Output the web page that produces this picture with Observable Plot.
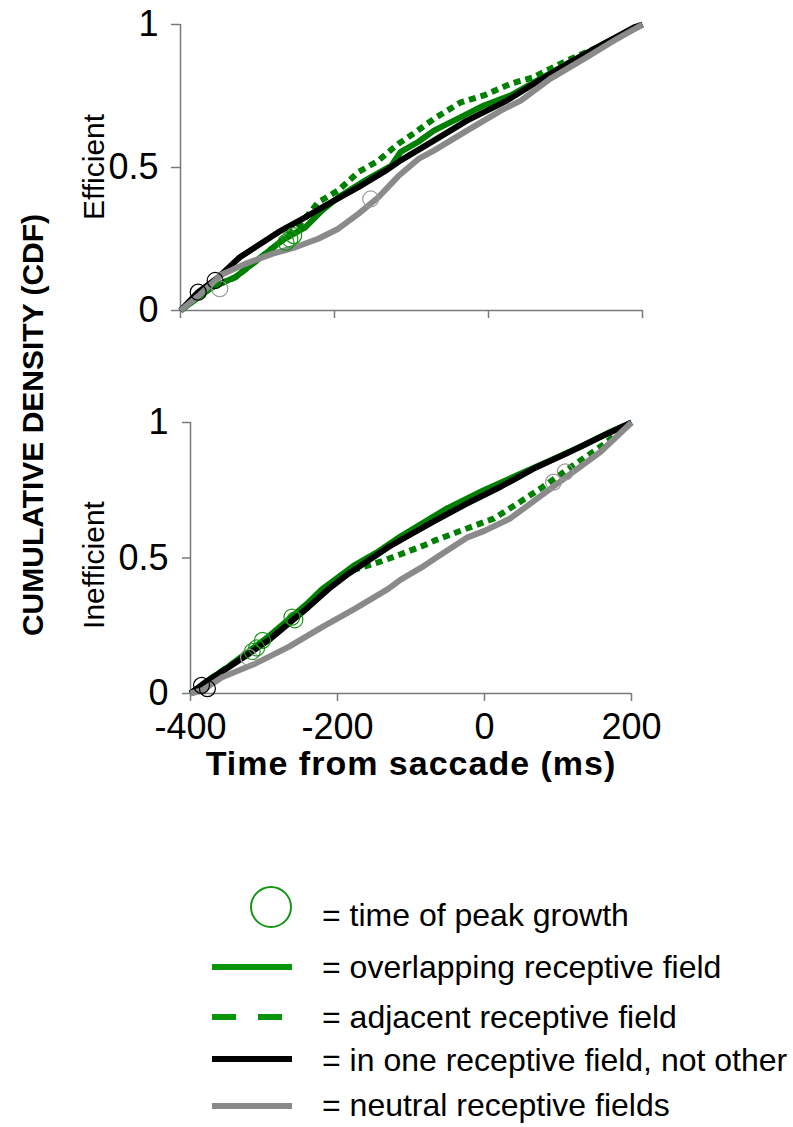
<!DOCTYPE html>
<html>
<head>
<meta charset="utf-8">
<script src="https://cdn.jsdelivr.net/npm/d3@7"></script>
<script src="https://cdn.jsdelivr.net/npm/@observablehq/plot@0.6"></script>
<style>
  html, body { margin: 0; padding: 0; background: #fff; }
  #figure { position: relative; width: 793px; height: 1127px; overflow: hidden; background: #fff; }
  #figure svg { position: absolute; left: 0; }
</style>
</head>
<body>
<div id="figure"></div>
<script>
// ---- Data: cumulative density of event times, [time from saccade (ms), CDF] ----
const efficientAdjacent = [[-400,0],[-380,0.04],[-359,0.081],[-329,0.116],[-290,0.198],[-268,0.245],[-245,0.30],[-221,0.379],[-195,0.42],[-169,0.484],[-143,0.524],[-117,0.583],[-95,0.623],[-71,0.67],[-36,0.728],[-6,0.752],[29,0.793],[59,0.816],[80,0.845],[102,0.874],[137,0.915],[167,0.956],[200,1]];
const efficientOverlapping = [[-400,0],[-380,0.04],[-359,0.081],[-329,0.116],[-290,0.198],[-268,0.245],[-238,0.291],[-216,0.35],[-195,0.396],[-160,0.455],[-126,0.507],[-114,0.555],[-91,0.59],[-71,0.629],[-36,0.676],[-6,0.717],[29,0.752],[59,0.798],[102,0.862],[146,0.927],[200,1]];
const efficientOneField = [[-400,0],[-377,0.064],[-351,0.116],[-323,0.186],[-303,0.221],[-273,0.274],[-238,0.326],[-208,0.373],[-169,0.431],[-134,0.488],[-114,0.525],[-71,0.594],[-28,0.664],[24,0.734],[59,0.793],[102,0.862],[146,0.927],[189,0.99],[200,1]];
const efficientNeutral = [[-400,0],[-375,0.055],[-347,0.125],[-316,0.163],[-281,0.198],[-251,0.221],[-221,0.251],[-195,0.286],[-169,0.338],[-143,0.396],[-117,0.47],[-91,0.53],[-71,0.559],[-28,0.629],[16,0.699],[42,0.734],[80,0.81],[124,0.88],[167,0.95],[200,1]];

const inefficientAdjacent = [[-400,0],[-375,0.05],[-348,0.10],[-321,0.152],[-294,0.205],[-267,0.265],[-240,0.325],[-212,0.39],[-185,0.447],[-176,0.458],[-140,0.488],[-114,0.514],[-81,0.548],[-69,0.563],[-24,0.609],[13,0.646],[45,0.701],[76,0.756],[99,0.8],[121,0.842],[160,0.915],[200,1]];
const inefficientOverlapping = [[-400,0],[-375,0.05],[-348,0.10],[-321,0.155],[-294,0.21],[-267,0.272],[-240,0.335],[-221,0.385],[-176,0.475],[-144,0.525],[-114,0.58],[-51,0.683],[-1,0.75],[45,0.806],[90,0.861],[135,0.916],[167,0.96],[200,1]];
const inefficientOneField = [[-400,0],[-376,0.048],[-348,0.097],[-321,0.146],[-294,0.196],[-267,0.257],[-240,0.318],[-212,0.386],[-185,0.442],[-158,0.491],[-131,0.54],[-103,0.583],[-69,0.635],[-24,0.701],[22,0.763],[67,0.83],[112,0.886],[158,0.947],[200,1]];
const inefficientNeutral = [[-400,0],[-384,0.012],[-357,0.06],[-312,0.11],[-267,0.171],[-221,0.245],[-176,0.313],[-131,0.386],[-114,0.42],[-85,0.466],[-69,0.495],[-24,0.575],[0,0.6],[35,0.646],[90,0.756],[112,0.8],[158,0.892],[200,1]];

// Times of peak growth: [series, time (ms), CDF]
const efficientPeaks = [["one",-377,0.064],["neutral",-349,0.076],["one",-355,0.105],["overlapping",-263,0.238],["overlapping",-258,0.25],["overlapping",-253,0.262],["neutral",-153,0.39]];
const inefficientPeaks = [["one",-385,0.03],["one",-377,0.018],["neutral",-321,0.134],["overlapping",-316,0.155],["overlapping",-310,0.168],["overlapping",-302,0.196],["overlapping",-262,0.282],["overlapping",-258,0.272],["neutral",94,0.78],["neutral",110,0.818]];

const xTicks = [-400, -200, 0, 200];
const yTicks = [0, 0.5, 1];
const panelNames = ["Efficient", "Inefficient"];
const yTitle = "CUMULATIVE DENSITY (CDF)";
const xTitle = "Time from saccade (ms)";
const legendLabels = [
  "= time of peak growth",
  "= overlapping receptive field",
  "= adjacent receptive field",
  "= in one receptive field, not other",
  "= neutral receptive fields"
];

// ---- Styling ----
const FONT = "'Liberation Sans', Arial, Helvetica, sans-serif";
const AXIS = "#7a7a7a";
const lineColor = {adjacent: "#008000", overlapping: "#008000", one: "#000000", neutral: "#8a8a8a"};
const peakColor = {overlapping: "#169616", one: "#000000", neutral: "#9a9a9a"};
const drawOrder = ["adjacent", "overlapping", "one", "neutral"];

function panel({curves, peaks, width, height, marginLeft, marginRight, marginTop, marginBottom, yTickSize, yTickPadding, xLabels}) {
  const marks = [
    Plot.ruleX([-400], {stroke: AXIS, strokeWidth: 1.5}),
    Plot.ruleY([0], {stroke: AXIS, strokeWidth: 1.5}),
    Plot.axisY({ticks: yTicks, tickSize: yTickSize, tickPadding: yTickPadding, stroke: AXIS, strokeWidth: 1.5,
      fill: "#000", fontSize: 36, tickFormat: d => String(d), label: null}),
    Plot.axisX({ticks: xTicks, tickSize: 8, tickPadding: 12, stroke: AXIS, strokeWidth: 1.5,
      fill: "#000", fontSize: 36, tickFormat: xLabels ? (d => String(d)) : (() => ""), label: null})
  ];
  for (const key of drawOrder) {
    const opts = {x: d => d[0], y: d => d[1], stroke: lineColor[key], strokeWidth: 6,
      strokeLinejoin: "round", strokeLinecap: "butt"};
    if (key === "adjacent") opts.strokeDasharray = "7,5";
    marks.push(Plot.line(curves[key], opts));
  }
  for (const key of ["overlapping", "one", "neutral"]) {
    marks.push(Plot.dot(peaks.filter(p => p[0] === key),
      {x: p => p[1], y: p => p[2], r: 8, stroke: peakColor[key], strokeWidth: 1.2, fill: "none"}));
  }
  return Plot.plot({
    width, height, marginLeft, marginRight, marginTop, marginBottom,
    x: {domain: [-400, 200]},
    y: {domain: [0, 1]},
    style: {fontFamily: FONT, fontSize: "36px", color: "#000", background: "transparent", overflow: "visible"},
    marks
  });
}

const fig = document.getElementById("figure");

const topPanel = panel({
  curves: {adjacent: efficientAdjacent, overlapping: efficientOverlapping, one: efficientOneField, neutral: efficientNeutral},
  peaks: efficientPeaks,
  width: 793, height: 322, marginLeft: 180, marginRight: 151, marginTop: 24, marginBottom: 12,
  yTickSize: 9, yTickPadding: 13, xLabels: false
});
topPanel.style.top = "0px";
fig.appendChild(topPanel);

const bottomPanel = panel({
  curves: {adjacent: inefficientAdjacent, overlapping: inefficientOverlapping, one: inefficientOneField, neutral: inefficientNeutral},
  peaks: inefficientPeaks,
  width: 793, height: 350, marginLeft: 190, marginRight: 162, marginTop: 22, marginBottom: 57,
  yTickSize: 8, yTickPadding: 14, xLabels: true
});
bottomPanel.style.top = "400px";
fig.appendChild(bottomPanel);

// ---- Titles and legend ----
const over = d3.create("svg")
  .attr("width", 793).attr("height", 1127)
  .style("top", "0px").style("pointer-events", "none")
  .style("font-family", FONT);

over.append("text")
  .attr("transform", "translate(43,425) rotate(-90)")
  .attr("text-anchor", "middle")
  .attr("font-weight", "bold").attr("font-size", 30)
  .text(yTitle);

[[104, 167], [104, 565]].forEach(([x, y], i) => {
  over.append("text")
    .attr("transform", `translate(${x},${y}) rotate(-90)`)
    .attr("text-anchor", "middle")
    .attr("font-size", 30)
    .text(panelNames[i]);
});

over.append("text")
  .attr("x", 411).attr("y", 775)
  .attr("text-anchor", "middle")
  .attr("font-weight", "bold").attr("font-size", 34)
  .attr("letter-spacing", 1)
  .text(xTitle);

const legendBaselines = [926, 978, 1028, 1071, 1116];
const swatchY = [907, 967, 1017, 1059, 1106];
const legend = over.append("g");
legend.append("circle")
  .attr("cx", 271).attr("cy", swatchY[0]).attr("r", 20)
  .attr("fill", "none").attr("stroke", peakColor.overlapping).attr("stroke-width", 2);
const swatchKeys = [null, "overlapping", "adjacent", "one", "neutral"];
swatchKeys.forEach((key, i) => {
  if (!key) return;
  legend.append("line")
    .attr("x1", 212).attr("x2", 292)
    .attr("y1", swatchY[i]).attr("y2", swatchY[i])
    .attr("stroke", key === "overlapping" || key === "adjacent" ? "#0a960a" : lineColor[key])
    .attr("stroke-width", 6)
    .attr("stroke-dasharray", key === "adjacent" ? "24,22" : null);
});
legendLabels.forEach((label, i) => {
  legend.append("text")
    .attr("x", 322).attr("y", legendBaselines[i])
    .attr("font-size", 32)
    .text(label);
});

fig.appendChild(over.node());
</script>
</body>
</html>
